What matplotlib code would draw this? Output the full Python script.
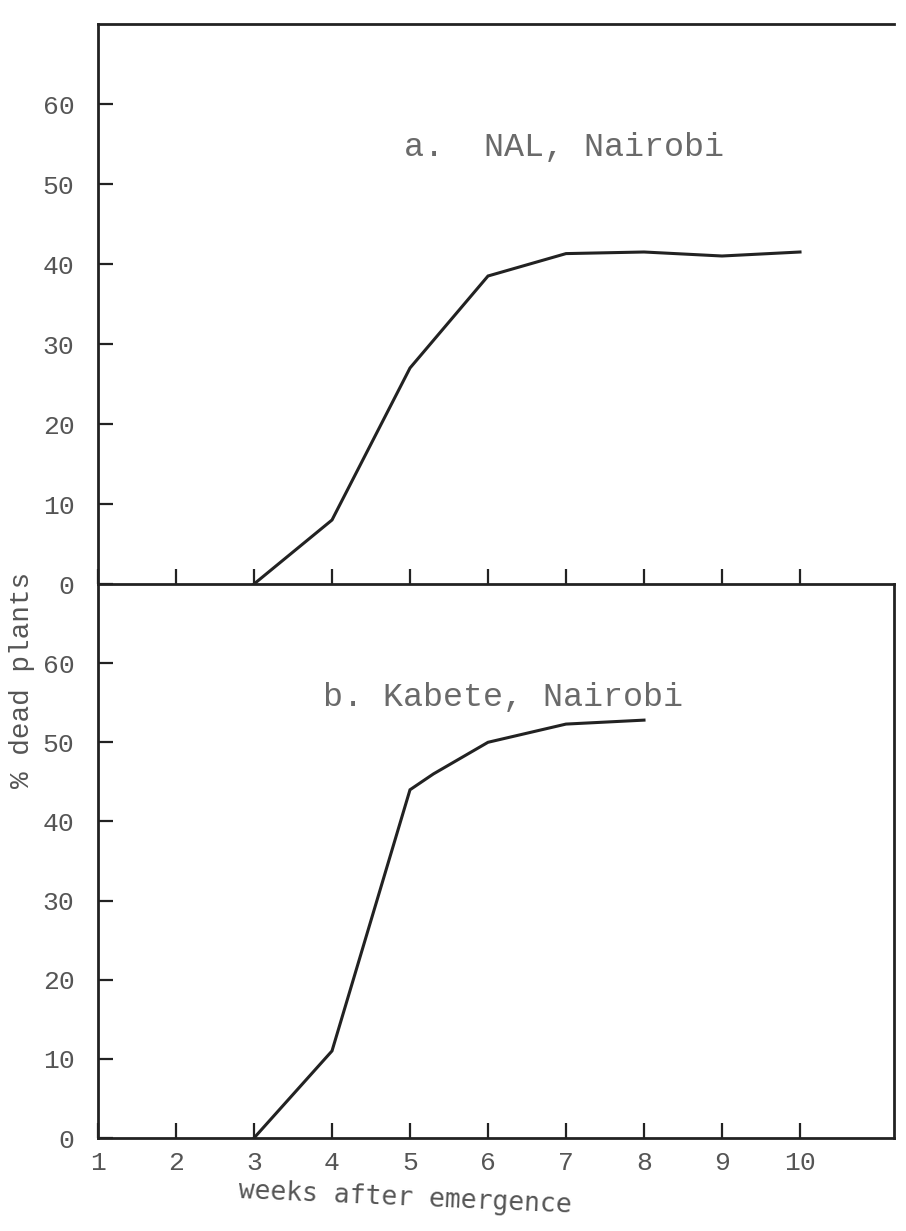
import matplotlib.pyplot as plt

# values (weeks after emergence, % dead plants)
weeks_a = [3, 4, 5, 6, 7, 8, 9, 10]
dead_a = [0, 8, 27, 38.5, 41.3, 41.5, 41, 41.5]
weeks_b = [3, 4, 5, 5.3, 6, 7, 8]
dead_b = [0, 11, 44, 46, 50, 52.3, 52.8]
week_ticks = [1, 2, 3, 4, 5, 6, 7, 8, 9, 10]
pct_ticks = [0, 10, 20, 30, 40, 50, 60]
title_a = "a.  NAL, Nairobi"
title_b = "b. Kabete, Nairobi"

W, H = 906, 1231
fig = plt.figure(figsize=(W / 100, H / 100), dpi=100)
fig.patch.set_facecolor("white")


def box(l, t, r, b):
    return [l / W, 1 - b / H, (r - l) / W, (b - t) / H]


ink = "#222222"
grey = "#555555"
mono = "Liberation Mono"

ax_a = fig.add_axes(box(98, 24, 894, 584))
ax_b = fig.add_axes(box(98, 584, 894, 1138))

for ax in (ax_a, ax_b):
    ax.set_xlim(1, 1 + (894 - 98) / 78)
    ax.set_ylim(0, 70)
    ax.set_facecolor("none")
    for s in ax.spines.values():
        s.set_linewidth(2.0)
        s.set_color(ink)
    ax.set_yticks(pct_ticks)
    ax.set_xticks(week_ticks)
    ax.tick_params(axis="both", direction="in", length=11, width=1.6,
                   color=ink)
    ax.tick_params(axis="y", pad=17, labelsize=19, labelcolor=grey)
    for lab in ax.get_yticklabels():
        lab.set_fontfamily(mono)

ax_a.spines["right"].set_visible(False)
ax_a.tick_params(axis="x", labelbottom=False)
ax_b.spines["top"].set_visible(False)
ax_b.tick_params(axis="x", pad=9, labelsize=19, labelcolor=grey)
for lab in ax_b.get_xticklabels():
    lab.set_fontfamily(mono)

ax_a.plot(weeks_a, dead_a, color=ink, lw=2.2, solid_joinstyle="miter")
ax_b.plot(weeks_b, dead_b, color=ink, lw=2.2, solid_joinstyle="miter")

ax_a.text(4.92, 54.6, title_a, fontfamily=mono, fontsize=24, color="#6a6a6a",
          ha="left", va="center")
ax_b.text(3.88, 55.7, title_b, fontfamily=mono, fontsize=24, color="#6a6a6a",
          ha="left", va="center")

fig.text(22 / W, 1 - 680 / H, "% dead plants", rotation=90, fontfamily=mono,
         fontsize=20, color=grey, ha="center", va="center")
fig.text(405 / W, 1 - 1198 / H, "weeks after emergence", rotation=-2.5,
         fontfamily="DejaVu Sans Mono", fontsize=19, color=grey,
         ha="center", va="center")

fig.savefig("out.png", dpi=100)
